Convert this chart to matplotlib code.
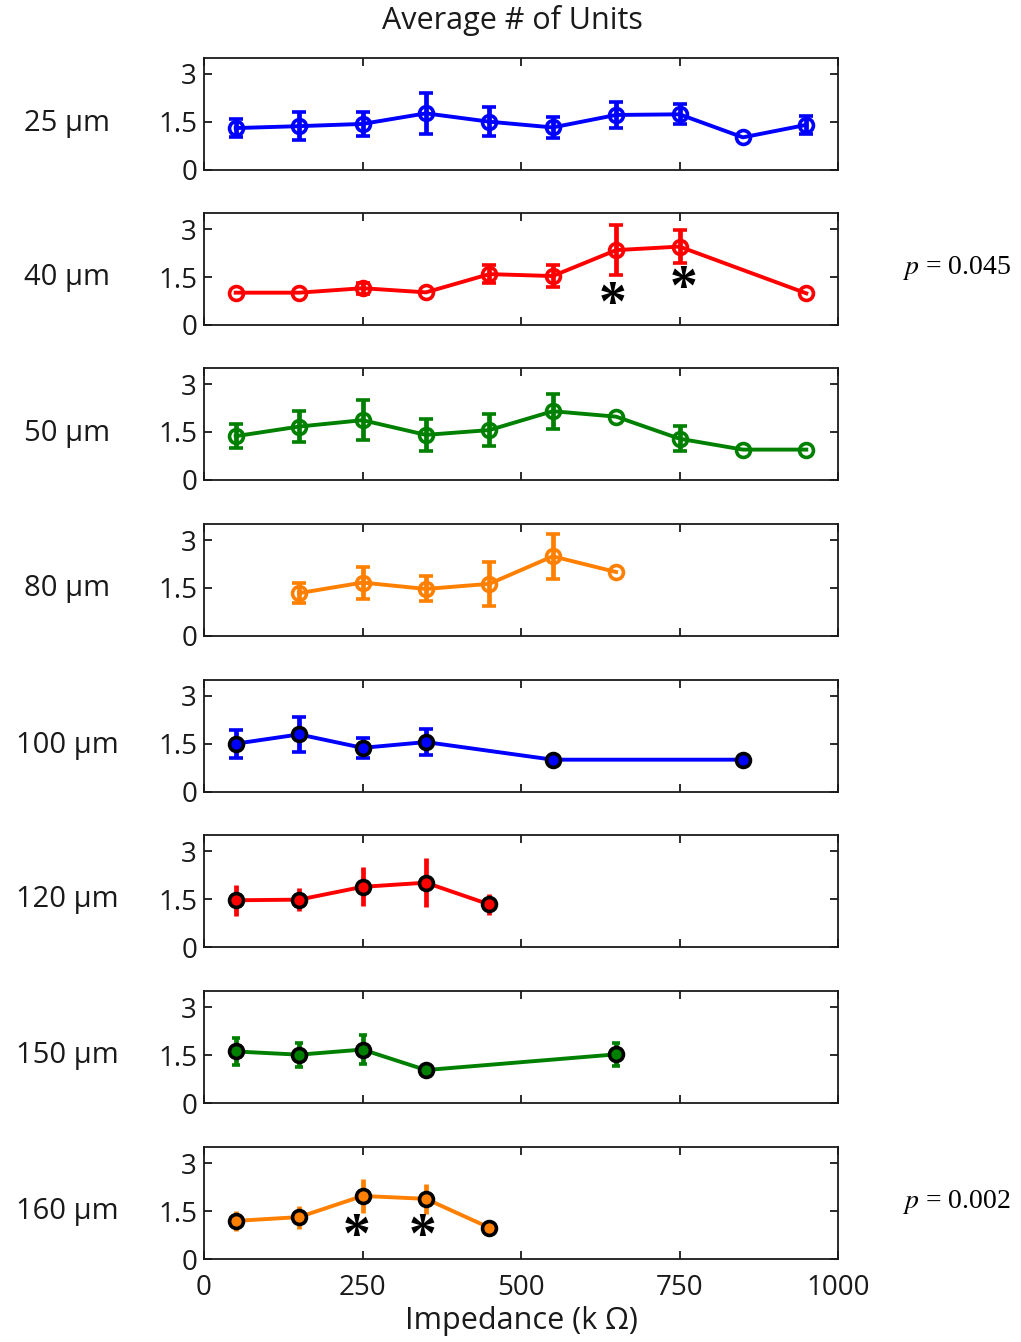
import numpy as np
import matplotlib
matplotlib.use('Agg')
import matplotlib.pyplot as plt

plt.rcParams['font.family'] = ['Open Sans', 'DejaVu Sans']
plt.rcParams['mathtext.fontset'] = 'stix'

nan = float('nan')

# electrode sizes (um) and colours
sizes = ['25', '40', '50', '80', '100', '120', '150', '160']
colors = ['#0000ff', '#ff0000', '#008000', '#ff8000',
          '#0000ff', '#ff0000', '#008000', '#ff8000']

# impedance bins (kOhm), mean units, error
x_25 = [50, 150, 250, 350, 450, 550, 650, 750, 850, 950]
y_25 = [1.31, 1.37, 1.44, 1.77, 1.51, 1.33, 1.72, 1.74, 1.02, 1.41]
e_25 = [0.28, 0.44, 0.37, 0.63, 0.46, 0.34, 0.40, 0.31, nan, 0.29]

x_40 = [50, 150, 250, 350, 450, 550, 650, 750, 950]
y_40 = [1.01, 1.01, 1.15, 1.02, 1.59, 1.53, 2.34, 2.45, 0.99]
e_40 = [nan, nan, 0.17, nan, 0.29, 0.34, 0.79, 0.52, nan]

x_50 = [50, 150, 250, 350, 450, 550, 650, 750, 850, 950]
y_50 = [1.37, 1.67, 1.87, 1.41, 1.56, 2.15, 1.98, 1.29, 0.95, 0.95]
e_50 = [0.37, 0.48, 0.62, 0.50, 0.51, 0.55, nan, 0.39, nan, nan]

x_80 = [150, 250, 350, 450, 550, 650]
y_80 = [1.34, 1.67, 1.47, 1.63, 2.49, 2.00]
e_80 = [0.32, 0.50, 0.39, 0.68, 0.71, nan]

x_100 = [50, 150, 250, 350, 550, 850]
y_100 = [1.51, 1.80, 1.38, 1.56, 1.01, 1.01]
e_100 = [0.44, 0.54, 0.31, 0.41, nan, nan]

x_120 = [50, 150, 250, 350, 450]
y_120 = [1.46, 1.48, 1.88, 2.01, 1.33]
e_120 = [0.48, 0.35, 0.61, 0.76, 0.34]

x_150 = [50, 150, 250, 350, 650]
y_150 = [1.61, 1.51, 1.67, 1.03, 1.52]
e_150 = [0.41, 0.38, 0.44, nan, 0.37]

x_160 = [50, 150, 250, 350, 450]
y_160 = [1.19, 1.31, 1.97, 1.88, 0.98]
e_160 = [0.31, 0.36, 0.53, 0.47, nan]

xs = [x_25, x_40, x_50, x_80, x_100, x_120, x_150, x_160]
ys = [y_25, y_40, y_50, y_80, y_100, y_120, y_150, y_160]
es = [e_25, e_40, e_50, e_80, e_100, e_120, e_150, e_160]

# significance markers (panel index, x, y) and p values
stars = [(1, 644, 0.94), (1, 756, 1.43), (7, 241, 1.0), (7, 345, 1.0)]
pvals = {1: '0.045', 7: '0.002'}

W, H = 1021, 1342
fig = plt.figure(figsize=(W / 100, H / 100), dpi=100)

tops = [58, 213, 368, 524, 680, 835, 991, 1147]
ax_h = 112
left, width = 204, 634
caps = [5, 5, 5, 5, 5, 0, 3, 0]
ink = '#1a1a1a'

axes = []
for i in range(8):
    ax = fig.add_axes([left / W, 1 - (tops[i] + ax_h) / H, width / W, ax_h / H])
    c = colors[i]
    if i < 4:
        mfc, mec = 'none', c
    else:
        mfc, mec = c, 'black'
    ax.errorbar(xs[i], ys[i], yerr=es[i], color=c, lw=2.8, elinewidth=3.4,
                capsize=caps[i], capthick=3.4, marker='o', ms=10,
                mfc=mfc, mec=mec, mew=2.6, zorder=3)
    ax.set_xlim(0, 1000)
    ax.set_ylim(0, 3.5)
    ax.set_xticks([0, 250, 500, 750, 1000])
    ax.set_yticks([0, 1.5, 3])
    ax.set_yticklabels(['0', '1.5', '3'])
    ax.tick_params(direction='in', length=6, width=1.3, top=True, right=True,
                   labelsize=20, pad=5, colors=ink)
    ax.tick_params(axis='x', pad=11)
    if i < 7:
        ax.tick_params(labelbottom=False)
    for sp in ax.spines.values():
        sp.set_linewidth(1.3)
        sp.set_color(ink)
    fig.text(67 / W, 1 - (tops[i] + ax_h / 2 + 9) / H, sizes[i] + ' \u03bcm',
             ha='center', va='center', fontsize=21, color=ink)
    if i in pvals:
        fig.text(956 / W, 1 - (tops[i] + ax_h / 2 - 1) / H,
                 '$p$ = ' + pvals[i], ha='center', va='center', fontsize=20,
                 family=['Liberation Serif', 'DejaVu Serif'])
    axes.append(ax)

for (i, sx, sy) in stars:
    axes[i].annotate('*', (sx, sy), xytext=(0, -8), textcoords='offset points',
                     ha='center', va='center', fontsize=40, fontweight='bold',
                     family=['Liberation Serif'], color='black', zorder=5)

axes[-1].set_xlabel('Impedance (k \u03a9)', fontsize=22, color=ink, labelpad=3)
fig.text(512 / W, 1 - 20 / H, 'Average # of Units', ha='center', va='center',
         fontsize=22, color=ink)

plt.savefig('out.png', dpi=100)
